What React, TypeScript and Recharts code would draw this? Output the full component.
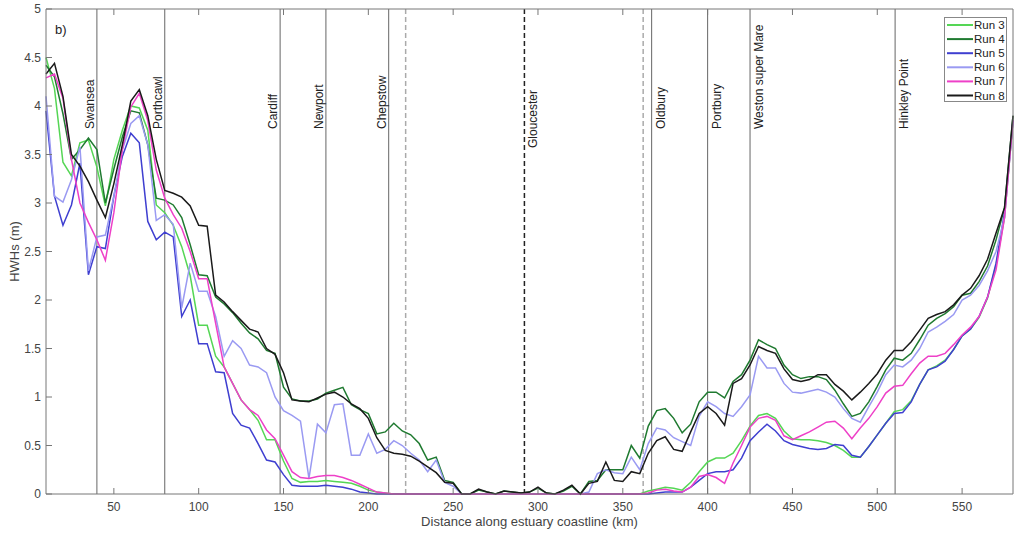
import React from 'react';
import { LineChart, Line, XAxis, YAxis, ReferenceLine, Legend, Label, Customized } from 'recharts';

const FONT = '"Liberation Sans", Arial, Helvetica, sans-serif';

const distanceKm = [
  10, 15, 20, 25, 30, 35, 40, 45, 50, 55,
  60, 65, 70, 75, 80, 85, 90, 95, 100, 105,
  110, 115, 120, 125, 130, 135, 140, 145, 150, 155,
  160, 165, 170, 175, 180, 185, 190, 195, 200, 205,
  210, 215, 220, 225, 230, 235, 240, 245, 250, 255,
  260, 265, 270, 275, 280, 285, 290, 295, 300, 305,
  310, 315, 320, 325, 330, 335, 340, 345, 350, 355,
  360, 365, 370, 375, 380, 385, 390, 395, 400, 405,
  410, 415, 420, 425, 430, 435, 440, 445, 450, 455,
  460, 465, 470, 475, 480, 485, 490, 495, 500, 505,
  510, 515, 520, 525, 530, 535, 540, 545, 550, 555,
  560, 565, 570, 575, 580,
];

const run3 = [
  4.5, 4.18, 3.42, 3.28, 3.62, 3.65, 3.37, 2.97, 3.45, 3.75,
  4.0, 3.98, 3.75, 2.98, 2.9, 2.77, 2.55, 2.25, 1.74, 1.74,
  1.42, 1.31, 1.14, 0.97, 0.87, 0.76, 0.56, 0.56, 0.34, 0.16,
  0.12, 0.13, 0.13, 0.14, 0.13, 0.12, 0.11, 0.08, 0.04, 0.02,
  0.01, 0, 0, 0, 0, 0, 0, 0, 0, 0,
  0, 0, 0, 0, 0, 0, 0, 0, 0, 0,
  0, 0, 0, 0, 0, 0, 0, 0, 0, 0,
  0, 0.03, 0.05, 0.07, 0.06, 0.04, 0.12, 0.23, 0.33, 0.37,
  0.37, 0.42, 0.55, 0.7, 0.81, 0.83, 0.78, 0.65, 0.57, 0.56,
  0.56, 0.55, 0.53, 0.5, 0.45, 0.38, 0.38, 0.49, 0.61, 0.73,
  0.85, 0.87, 0.96, 1.13, 1.28, 1.32, 1.38, 1.49, 1.63, 1.7,
  1.82, 2.02, 2.36, 2.85, 3.85,
];

const run4 = [
  4.42, 4.3, 3.92, 3.45, 3.55, 3.67, 3.55, 3.0, 3.35, 3.68,
  3.95, 3.93, 3.6, 3.05, 3.03, 2.98, 2.85, 2.57, 2.26, 2.25,
  2.03, 1.96, 1.87, 1.76, 1.66, 1.6, 1.48, 1.45, 1.1, 0.98,
  0.96, 0.96, 0.98, 1.04, 1.07, 1.1, 0.92, 0.87, 0.83, 0.62,
  0.64, 0.73, 0.65, 0.61, 0.52, 0.35, 0.38, 0.14, 0.12, 0,
  0, 0.04, 0.02, 0, 0.03, 0.02, 0.01, 0.02, 0.06, 0.01,
  0, 0.03, 0.08, 0, 0.13, 0.14, 0.25, 0.25, 0.25, 0.5,
  0.37, 0.7, 0.86, 0.88, 0.78, 0.63, 0.72, 0.95, 1.05, 1.05,
  0.99, 1.16, 1.23, 1.38, 1.59, 1.54, 1.5, 1.33, 1.23, 1.19,
  1.21, 1.21, 1.18, 1.07, 0.93, 0.8, 0.83, 0.95, 1.11, 1.28,
  1.4, 1.38, 1.45, 1.59, 1.74, 1.81, 1.86, 1.93, 2.05, 2.07,
  2.19, 2.35, 2.62, 2.95, 3.9,
];

const run5 = [
  3.95, 3.07, 2.77, 2.98, 3.41, 2.26, 2.55, 2.53, 3.07, 3.48,
  3.72, 3.62, 2.81, 2.62, 2.7, 2.65, 1.83, 2.0, 1.55, 1.55,
  1.26, 1.25, 0.83, 0.71, 0.68, 0.52, 0.35, 0.33, 0.2, 0.09,
  0.08, 0.08, 0.08, 0.09, 0.08, 0.07, 0.05, 0.02, 0.01, 0,
  0, 0, 0, 0, 0, 0, 0, 0, 0, 0,
  0, 0, 0, 0, 0, 0, 0, 0, 0, 0,
  0, 0, 0, 0, 0, 0, 0, 0, 0, 0,
  0, 0, 0.01, 0.02, 0.02, 0.02, 0.07, 0.14, 0.21, 0.23,
  0.23, 0.25, 0.37, 0.55, 0.64, 0.72, 0.65, 0.55, 0.51, 0.49,
  0.47, 0.46, 0.47, 0.51, 0.5, 0.4, 0.38, 0.49, 0.61, 0.73,
  0.83, 0.84, 0.95, 1.13, 1.28, 1.31, 1.37, 1.49, 1.63, 1.7,
  1.83, 2.03, 2.38, 2.9, 3.85,
];

const run6 = [
  4.1, 3.07, 3.01, 3.24, 3.58, 2.3, 2.65, 2.67, 3.07, 3.55,
  3.82, 3.9, 3.6, 2.82, 2.88, 2.78, 1.92, 2.38, 2.09, 2.09,
  1.83, 1.42, 1.58, 1.5, 1.33, 1.31, 1.25, 1.0, 0.86, 0.81,
  0.75, 0.16, 0.72, 0.63, 0.92, 0.93, 0.4, 0.4, 0.62, 0.42,
  0.46, 0.55, 0.5, 0.42, 0.35, 0.23, 0.35, 0.12, 0.08, 0,
  0, 0, 0, 0, 0, 0, 0, 0, 0, 0,
  0, 0, 0, 0, 0.02, 0.21, 0.25, 0.22, 0.21, 0.38,
  0.25, 0.52, 0.68, 0.66, 0.58, 0.54, 0.5, 0.8, 0.95, 0.9,
  0.83, 0.8, 0.9, 1.02, 1.42, 1.3, 1.3, 1.14, 1.05, 1.04,
  1.06, 1.08, 1.05, 1.0, 0.88, 0.78, 0.74, 0.9, 1.05, 1.23,
  1.33, 1.31, 1.38, 1.5, 1.67, 1.72, 1.78, 1.85, 2.0, 2.05,
  2.15, 2.3, 2.5, 2.85, 3.85,
];

const run7 = [
  4.29, 4.33, 4.08, 3.45, 3.0, 2.8, 2.62, 2.41, 2.9, 3.55,
  3.99, 4.13, 3.85, 3.34, 3.05, 2.88, 2.74, 2.5, 2.22, 2.22,
  1.76, 1.31, 1.14, 0.97, 0.87, 0.81, 0.66, 0.57, 0.4, 0.23,
  0.17, 0.16, 0.18, 0.19, 0.19, 0.17, 0.14, 0.1, 0.06, 0.02,
  0.01, 0, 0, 0, 0, 0, 0, 0, 0, 0,
  0, 0, 0, 0, 0, 0, 0, 0, 0, 0,
  0, 0, 0, 0, 0, 0, 0, 0, 0, 0,
  0, 0.01, 0.04, 0.05, 0.03, 0.02, 0.07, 0.18, 0.2, 0.17,
  0.11, 0.32, 0.5, 0.69, 0.78, 0.8, 0.76, 0.6, 0.56, 0.6,
  0.64, 0.69, 0.74, 0.75, 0.68, 0.57, 0.68, 0.78, 0.9, 1.04,
  1.11, 1.12, 1.24, 1.35, 1.42, 1.42, 1.45, 1.54, 1.64, 1.72,
  1.83, 2.03, 2.31, 2.85, 3.85,
];

const run8 = [
  4.33, 4.44, 4.1, 3.5, 3.38, 3.22, 3.03, 2.85, 3.2, 3.6,
  4.05, 4.17, 3.9, 3.45, 3.13, 3.1, 3.06, 2.97, 2.77, 2.76,
  2.05, 1.98, 1.88, 1.79, 1.7, 1.67, 1.5, 1.44, 1.25, 0.97,
  0.96, 0.95, 0.99, 1.03, 1.05, 1.0, 0.93, 0.88, 0.78, 0.58,
  0.45, 0.42, 0.41, 0.39, 0.34, 0.28, 0.22, 0.12, 0.11, 0,
  0, 0.05, 0.02, 0, 0.03, 0.02, 0.01, 0.02, 0.07, 0.01,
  0, 0.04, 0.09, 0, 0.11, 0.13, 0.33, 0.14, 0.13, 0.23,
  0.21, 0.42, 0.55, 0.59, 0.46, 0.44, 0.64, 0.83, 0.9, 0.83,
  0.71, 1.14, 1.19, 1.33, 1.52, 1.48, 1.45, 1.29, 1.18, 1.16,
  1.18, 1.23, 1.23, 1.13, 1.06, 0.97, 1.05, 1.14, 1.24, 1.38,
  1.48, 1.48, 1.57, 1.69, 1.81, 1.85, 1.88, 1.95, 2.05, 2.12,
  2.25, 2.42, 2.69, 2.95, 3.9,
];

const seriesNames = ['Run 3', 'Run 4', 'Run 5', 'Run 6', 'Run 7', 'Run 8'];
const seriesKeys = ['run3', 'run4', 'run5', 'run6', 'run7', 'run8'];
const seriesColors = ['#55d655', '#1f7a30', '#3f3fd0', '#9a9af2', '#ee40c8', '#1a1a1a'];

const xTicks = [50, 100, 150, 200, 250, 300, 350, 400, 450, 500, 550];
const yTicks = [0, 0.5, 1, 1.5, 2, 2.5, 3, 3.5, 4, 4.5, 5];

const locationNames = ['Swansea', 'Porthcawl', 'Cardiff', 'Newport', 'Chepstow', 'Oldbury', 'Portbury', 'Weston super Mare', 'Hinkley Point'];
const locationKm = [40, 80, 148, 175, 212, 367, 400, 425, 510.5];
const locationSide = ['left', 'left', 'left', 'left', 'left', 'right', 'right', 'right', 'right'];
const dashedGreyKm = [222, 362];
const gloucesterKm = 292;

const data = distanceKm.map((km, i) => ({
  km,
  run3: run3[i],
  run4: run4[i],
  run5: run5[i],
  run6: run6[i],
  run7: run7[i],
  run8: run8[i],
}));

const FRAME = '#777';
const TXT = '#444';

const XTickBottom = (p: any) => (
  <g>
    <line x1={p.x} x2={p.x} y1={p.y} y2={p.y - 6} stroke={FRAME} />
    <text x={p.x} y={p.y + 17} textAnchor="middle" fontSize={12} fill={TXT} fontFamily={FONT}>
      {p.payload.value}
    </text>
  </g>
);
const XTickTop = (p: any) => (
  <line x1={p.x} x2={p.x} y1={p.y} y2={p.y + 6} stroke={FRAME} />
);
const YTickLeft = (p: any) => (
  <g>
    <line x1={p.x} x2={p.x + 6} y1={p.y} y2={p.y} stroke={FRAME} />
    <text x={p.x - 5} y={p.y + 4} textAnchor="end" fontSize={12} fill={TXT} fontFamily={FONT}>
      {p.payload.value}
    </text>
  </g>
);
const YTickRight = (p: any) => (
  <line x1={p.x} x2={p.x - 6} y1={p.y} y2={p.y} stroke={FRAME} />
);

const locLabel = (text: string, side: string, fromTop: number) => (props: any) => {
  const vb = props.viewBox || { x: 0, y: 0 };
  const x = side === 'left' ? vb.x - 3 : vb.x + 13;
  const y = vb.y + fromTop;
  return (
    <text x={x} y={y} transform={`rotate(-90 ${x} ${y})`} fontSize={12} fill="#222" fontFamily={FONT}>
      {text}
    </text>
  );
};

const renderLegend = (props: any) => {
  const items = props.payload || [];
  return (
    <svg width={64} height={86} style={{ display: 'block' }}>
      <rect x={0.5} y={0.5} width={62} height={84} fill="#fff" stroke="#888" />
      {items.map((it: any, i: number) => {
        const cy = 8 + i * 14.1;
        return (
          <g key={i}>
            <line x1={3} x2={29} y1={cy} y2={cy} stroke={it.color} strokeWidth={2} />
            <text x={30} y={cy + 4} fontSize={11.5} fill="#222" fontFamily={FONT}>
              {it.value}
            </text>
          </g>
        );
      })}
    </svg>
  );
};

export default function App() {
  return (
    <div style={{ position: 'absolute', left: 0, top: 0, background: '#fff' }}>
      <LineChart
        width={1014}
        height={539}
        data={data}
        margin={{ top: 8, right: 0, bottom: 0, left: 0 }}
        style={{ fontFamily: FONT }}
      >
        <XAxis
          dataKey="km"
          type="number"
          domain={[10, 580]}
          ticks={xTicks}
          interval={0}
          height={45}
          tickSize={0}
          tickMargin={0}
          tickLine={false}
          axisLine={{ stroke: FRAME }}
          tick={XTickBottom}
        >
          <Label
            content={(p: any) => {
              const vb = p.viewBox;
              return (
                <text x={vb.x + vb.width / 2} y={vb.y + 32} textAnchor="middle" fontSize={13} fill={TXT} fontFamily={FONT}>
                  Distance along estuary coastline (km)
                </text>
              );
            }}
          />
        </XAxis>
        <XAxis
          xAxisId="top"
          orientation="top"
          dataKey="km"
          type="number"
          domain={[10, 580]}
          ticks={xTicks}
          interval={0}
          height={1}
          tickSize={0}
          tickMargin={0}
          tickLine={false}
          axisLine={{ stroke: FRAME }}
          tick={XTickTop}
        />
        <YAxis
          type="number"
          domain={[0, 5]}
          ticks={yTicks}
          interval={0}
          width={46}
          tickSize={0}
          tickMargin={0}
          tickLine={false}
          axisLine={{ stroke: FRAME }}
          tick={YTickLeft}
        >
          <Label
            content={(p: any) => {
              const vb = p.viewBox;
              const x = 19;
              const y = vb.y + vb.height / 2;
              return (
                <text x={x} y={y} transform={`rotate(-90 ${x} ${y})`} textAnchor="middle" fontSize={13} fill={TXT} fontFamily={FONT}>
                  HWHs (m)
                </text>
              );
            }}
          />
        </YAxis>
        <YAxis
          yAxisId="right"
          orientation="right"
          type="number"
          domain={[0, 5]}
          ticks={yTicks}
          interval={0}
          width={1}
          tickSize={0}
          tickMargin={0}
          tickLine={false}
          axisLine={{ stroke: FRAME }}
          tick={YTickRight}
        />
        {locationKm.map((k, i) => (
          <ReferenceLine
            key={'loc' + i}
            x={k}
            stroke="#666"
            strokeWidth={1}
            label={locLabel(locationNames[i], locationSide[i], 120)}
          />
        ))}
        {dashedGreyKm.map((k, i) => (
          <ReferenceLine key={'dg' + i} x={k} stroke="#aaa" strokeWidth={1.5} strokeDasharray="5 3" />
        ))}
        <ReferenceLine
          x={gloucesterKm}
          stroke="#222"
          strokeWidth={1.5}
          strokeDasharray="5 3"
          label={locLabel('Gloucester', 'right', 139)}
        />
        {seriesKeys.map((k, i) => (
          <Line
            key={k}
            type="linear"
            dataKey={k}
            name={seriesNames[i]}
            stroke={seriesColors[i]}
            strokeWidth={1.5}
            dot={false}
            activeDot={false}
            isAnimationActive={false}
          />
        ))}
        <Customized
          component={() => (
            <text x={55} y={34} fontSize={13} fill="#222" fontFamily={FONT}>
              b)
            </text>
          )}
        />
        <Legend
          layout="vertical"
          align="center"
          verticalAlign="middle"
          content={renderLegend}
          wrapperStyle={{ position: 'absolute', left: 944, top: 17, width: 64, height: 86 }}
        />
      </LineChart>
    </div>
  );
}
